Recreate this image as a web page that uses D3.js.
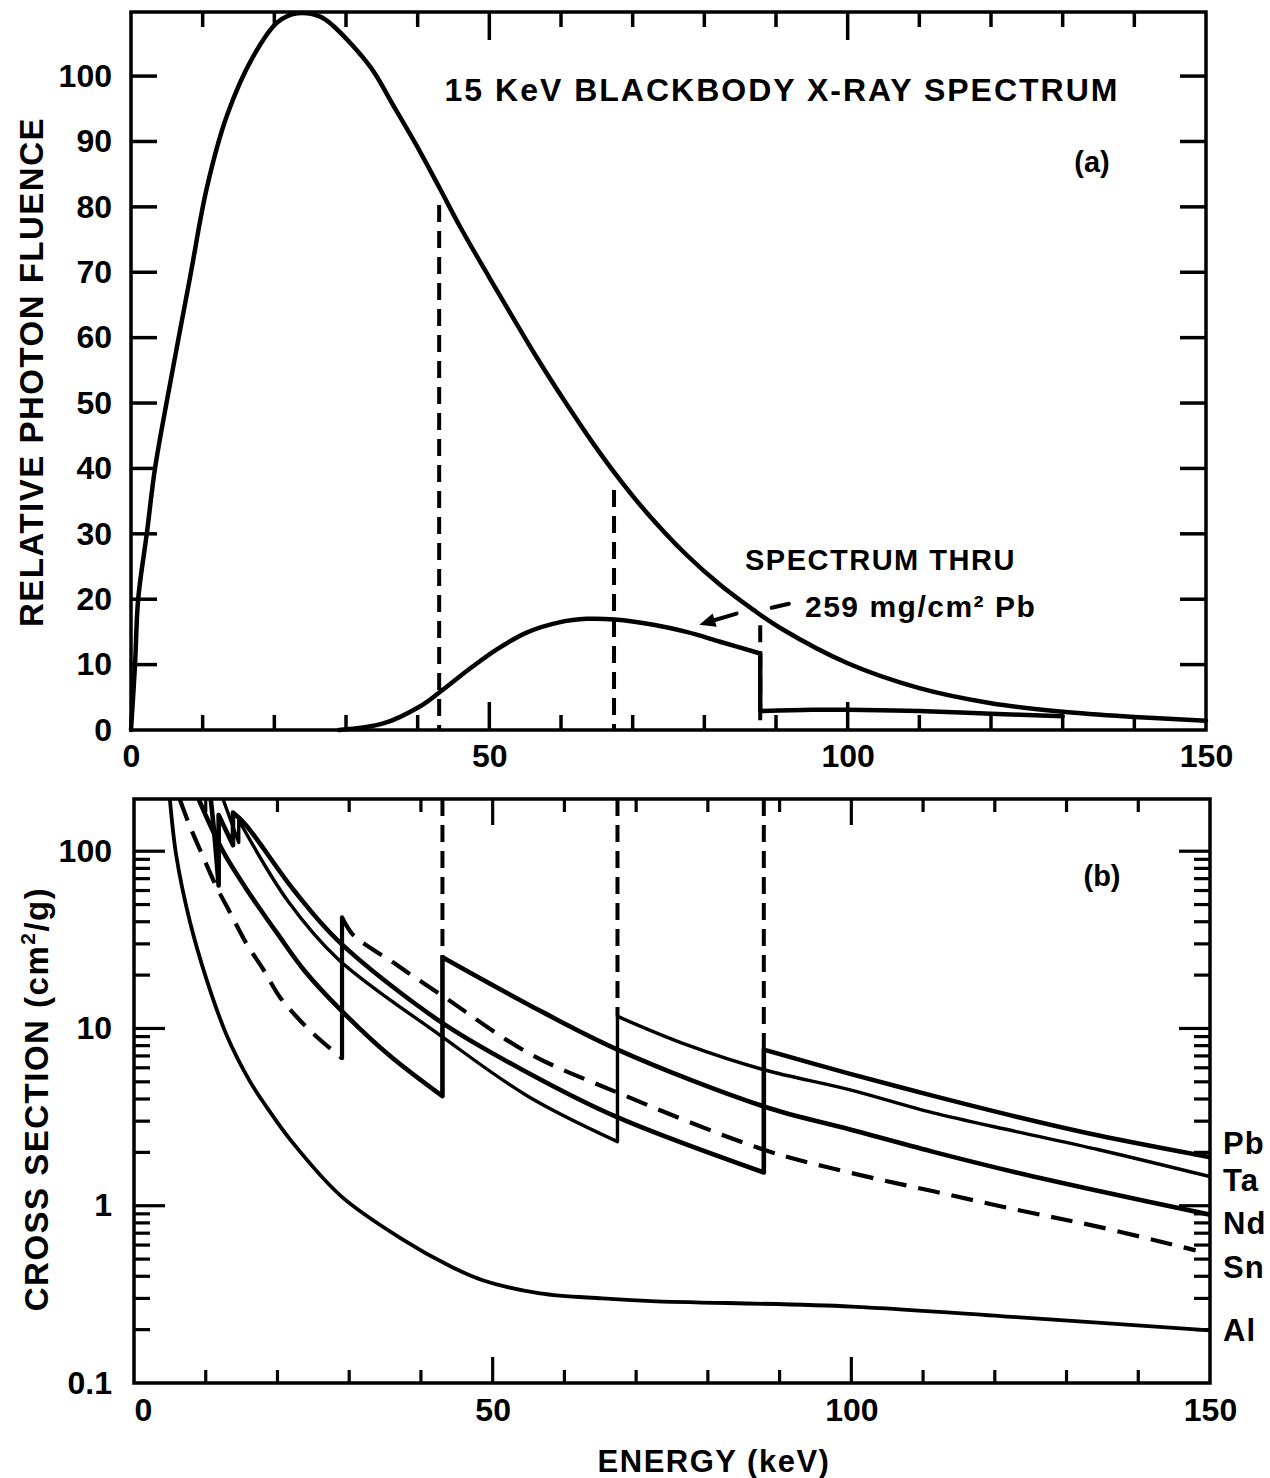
<!DOCTYPE html>
<html>
<head>
<meta charset="utf-8">
<script src="https://cdn.jsdelivr.net/npm/d3@7"></script>
<style>
  body { margin: 0; background: #fff; }
  text { font-family: "Liberation Sans", Arial, Helvetica, sans-serif; font-weight: bold; fill: #000; }
</style>
</head>
<body>
<script>
// ------- data -------
const E_MAX = 150;
const FLUENCE_MAX = 109.8;
const SIGMA_MIN = 0.1, SIGMA_MAX = 197;

// (a) 15 keV blackbody spectrum
const bbEnergy  = [0, 0.56, 1.0, 2.2, 3.35, 5.0, 8.2, 10.6, 13.4, 17.0, 20.4, 23.2, 26.4, 28.2, 33.4, 36.6, 40.3, 43.1, 45.9, 50.1, 52.9, 56.6, 60.8, 64.5, 68.2, 72.0, 77.5, 82.2, 86.8, 90.6, 100, 110, 120, 130, 140, 150];
const bbFluence = [0, 10, 20, 30, 40, 50.3, 69.0, 83.0, 94.0, 102.9, 108.2, 109.6, 109.1, 107.7, 101.4, 95.5, 88.5, 82.8, 77.0, 69.0, 63.8, 57.0, 49.8, 43.8, 38.3, 33.2, 26.8, 22.2, 18.4, 15.6, 10.2, 6.4, 4.1, 2.8, 2.0, 1.4];

// spectrum through 259 mg/cm2 Pb
const thruEnergy  = [29, 35.2, 40.3, 43.1, 47.3, 51.0, 55.2, 59.9, 63.6, 67.5, 72.9, 77.5, 82.2, 87.8, 87.8, 95, 100, 110, 120, 130];
const thruFluence = [0, 1.0, 3.6, 5.8, 9.4, 12.3, 14.9, 16.5, 17.0, 16.9, 16.1, 15.0, 13.5, 11.7, 2.9, 3.1, 3.1, 2.9, 2.5, 2.1];

// K edges marked by dashed lines
const edgeElement = ["Nd", "Ta", "Pb"];
const edgeEnergy  = [43.0, 67.4, 87.8];
const edgeMarkTop = [80.3, 36.7, 16.0];   // top of the dashed mark in panel (a)

// (b) cross sections, cm2/g
const pbEnergy = [10.7, 11.2, 11.8, 11.8, 13.8, 13.8, 15.5, 22.4, 28.5, 42.6, 54.9, 67.2, 87.8, 87.8, 99.7, 111.3, 123, 134.5, 150];
const pbSigma  = [197, 125, 64, 160, 108, 165, 142, 59.4, 31.1, 11.0, 5.63, 3.18, 1.54, 7.6, 5.56, 4.18, 3.18, 2.49, 1.88];

const taEnergy = [12.4, 14.6, 14.6, 21.5, 28.5, 42.6, 54.9, 67.4, 67.4, 77, 87.8, 99.7, 111.3, 123, 134.5, 150];
const taSigma  = [197, 112, 150, 52, 24.5, 9.2, 4.15, 2.3, 11.7, 8.1, 5.85, 4.52, 3.35, 2.62, 2.07, 1.46];

const ndEnergy = [9.0, 12.4, 15.5, 20.1, 23.8, 28.5, 35.5, 43.0, 43.0, 54.9, 67.4, 87.8, 99.7, 111.3, 123, 134.5, 150];
const ndSigma  = [197, 100, 62.7, 33.8, 21.1, 13.1, 7.1, 4.15, 25.2, 13.7, 7.6, 3.63, 2.70, 2.02, 1.54, 1.21, 0.89];

const snEnergy = [6.4, 7.8, 9.6, 11.5, 13.4, 15.7, 18.0, 20.3, 22.7, 25.5, 29.0, 29.0, 30.6, 33.3, 36.1, 38.9, 43.0, 54.9, 67.4, 87.8, 99.7, 111.3, 123, 134.5, 148];
const snSigma  = [195, 138, 93.6, 63, 45, 30, 21.6, 15.1, 11.6, 8.95, 6.8, 42.3, 33.5, 27.9, 23.6, 19.7, 15.3, 7.3, 4.35, 2.07, 1.54, 1.21, 0.95, 0.76, 0.56];

const alEnergy = [5.0, 5.9, 7.8, 10.1, 12.9, 16.2, 18.5, 22.0, 28.9, 37.6, 43.9, 48.6, 56.6, 65.3, 72.1, 100, 123, 150];
const alSigma  = [197, 94, 40, 19, 9.2, 5.0, 3.6, 2.3, 1.13, 0.64, 0.46, 0.38, 0.32, 0.30, 0.29, 0.27, 0.235, 0.198];

const elements = ["Pb", "Ta", "Nd", "Sn", "Al"];
const elementEnergy = [pbEnergy, taEnergy, ndEnergy, snEnergy, alEnergy];
const elementSigma  = [pbSigma, taSigma, ndSigma, snSigma, alSigma];

const energyLabels = [0, 50, 100, 150];
const fluenceLabels = d3.range(0, 101, 10);
const sigmaLabels = [0.1, 1, 10, 100];

// ------- helpers -------
function splitAtJumps(E, V) {
  const segs = [[]];
  E.forEach((e, i) => {
    if (i > 0 && e === E[i - 1]) segs.push([]);
    segs[segs.length - 1].push([e, V[i]]);
  });
  return segs;
}
function jumps(E, V) {
  const out = [];
  E.forEach((e, i) => { if (i > 0 && e === E[i - 1]) out.push([[e, V[i - 1]], [e, V[i]]]); });
  return out;
}
function joinedPath(line, segs) {
  return segs.map((s, i) => { const d = line(s); return i ? d.replace(/^M/, "L") : d; }).join("");
}

const svg = d3.select("body").append("svg").attr("width", 1270).attr("height", 1478);

// =================== panel (a) ===================
const xTop = d3.scaleLinear().domain([0, E_MAX]).range([131, 1206]);
const yTop = d3.scaleLinear().domain([0, FLUENCE_MAX]).range([730, 12]);
const gA = svg.append("g");

gA.append("rect")
  .attr("x", xTop(0)).attr("y", yTop(FLUENCE_MAX))
  .attr("width", xTop(E_MAX) - xTop(0)).attr("height", yTop(0) - yTop(FLUENCE_MAX))
  .attr("fill", "none").attr("stroke", "#000").attr("stroke-width", 3.5);

const xMinor = d3.range(10, E_MAX, 10);
const tickLenX = d => (d % 50 === 0 ? 28 : 15);
gA.selectAll(".tb").data(xMinor).join("line")
  .attr("x1", d => xTop(d)).attr("x2", d => xTop(d))
  .attr("y1", yTop(0)).attr("y2", d => yTop(0) - tickLenX(d));
gA.selectAll(".tt").data(xMinor).join("line")
  .attr("x1", d => xTop(d)).attr("x2", d => xTop(d))
  .attr("y1", yTop(FLUENCE_MAX)).attr("y2", d => yTop(FLUENCE_MAX) + tickLenX(d));
const yMinorA = d3.range(10, 101, 10);
gA.selectAll(".tl").data(yMinorA).join("line")
  .attr("x1", xTop(0)).attr("x2", xTop(0) + 26)
  .attr("y1", d => yTop(d)).attr("y2", d => yTop(d));
gA.selectAll(".tr").data(yMinorA).join("line")
  .attr("x1", xTop(E_MAX)).attr("x2", xTop(E_MAX) - 26)
  .attr("y1", d => yTop(d)).attr("y2", d => yTop(d));
gA.selectAll("line").attr("stroke", "#000").attr("stroke-width", 3.5);

gA.append("g").attr("transform", `translate(0,${yTop(0)})`)
  .call(d3.axisBottom(xTop).tickValues(energyLabels).tickSize(0).tickPadding(14))
  .call(g => g.select(".domain").remove())
  .attr("font-size", 32);
gA.append("g").attr("transform", `translate(${xTop(0)},0)`)
  .call(d3.axisLeft(yTop).tickValues(fluenceLabels).tickSize(0).tickPadding(19))
  .call(g => g.select(".domain").remove())
  .attr("font-size", 32);

const lineA = d3.line().x(d => xTop(d[0])).y(d => yTop(d[1])).curve(d3.curveCatmullRom.alpha(0.5));

gA.append("path")
  .attr("d", lineA(bbEnergy.map((e, i) => [e, bbFluence[i]])))
  .attr("fill", "none").attr("stroke", "#000").attr("stroke-width", 4.5)
  .attr("stroke-linejoin", "round").attr("stroke-linecap", "round");

gA.append("path")
  .attr("d", joinedPath(lineA, splitAtJumps(thruEnergy, thruFluence)))
  .attr("fill", "none").attr("stroke", "#000").attr("stroke-width", 4.5)
  .attr("stroke-linejoin", "round").attr("stroke-linecap", "round");

gA.selectAll(".edgeA").data(edgeEnergy).join("line")
  .attr("x1", d => xTop(d)).attr("x2", d => xTop(d))
  .attr("y1", (d, i) => yTop(edgeMarkTop[i])).attr("y2", yTop(0))
  .attr("stroke", "#000").attr("stroke-width", 4).attr("stroke-dasharray", "17,9");

// annotation arrow
const arrowTail = [xTop(84.5), yTop(17.8)], arrowHead = [xTop(79.3), yTop(16.1)];
gA.append("line")
  .attr("x1", arrowTail[0]).attr("y1", arrowTail[1]).attr("x2", arrowHead[0] + 8).attr("y2", arrowHead[1] - 2.5)
  .attr("stroke", "#000").attr("stroke-width", 4).attr("stroke-linecap", "round");
{
  const ang = Math.atan2(arrowHead[1] - arrowTail[1], arrowHead[0] - arrowTail[0]);
  const L = 16, W = 7;
  const bx = arrowHead[0] - L * Math.cos(ang), by = arrowHead[1] - L * Math.sin(ang);
  gA.append("polygon").attr("points", [
    arrowHead,
    [bx + W * Math.sin(ang), by - W * Math.cos(ang)],
    [bx - W * Math.sin(ang), by + W * Math.cos(ang)]
  ].map(p => p.join(",")).join(" ")).attr("fill", "#000");
}
gA.append("line")
  .attr("x1", xTop(89.4)).attr("y1", yTop(18.7)).attr("x2", xTop(91.8)).attr("y2", yTop(19.3))
  .attr("stroke", "#000").attr("stroke-width", 4).attr("stroke-linecap", "round");

gA.append("text").attr("x", 782).attr("y", 101).attr("text-anchor", "middle")
  .attr("font-size", 32).attr("letter-spacing", 2).text("15 KeV BLACKBODY X-RAY SPECTRUM");
gA.append("text").attr("x", 1092).attr("y", 172).attr("text-anchor", "middle")
  .attr("font-size", 29).text("(a)");
gA.append("text").attr("x", 745).attr("y", 570)
  .attr("font-size", 29).attr("letter-spacing", 1.5).text("SPECTRUM THRU");
gA.append("text").attr("x", 805).attr("y", 617)
  .attr("font-size", 30).attr("letter-spacing", 1.5).text("259 mg/cm² Pb");

svg.append("text").attr("transform", "translate(43,372) rotate(-90)").attr("text-anchor", "middle")
  .attr("font-size", 33).attr("letter-spacing", 1.5).text("RELATIVE PHOTON FLUENCE");

// =================== panel (b) ===================
const xBot = d3.scaleLinear().domain([0, E_MAX]).range([134, 1210]);
const yBot = d3.scaleLog().domain([SIGMA_MIN, SIGMA_MAX]).range([1383, 799]);
const gB = svg.append("g");

gB.append("rect")
  .attr("x", xBot(0)).attr("y", yBot(SIGMA_MAX))
  .attr("width", xBot(E_MAX) - xBot(0)).attr("height", yBot(SIGMA_MIN) - yBot(SIGMA_MAX))
  .attr("fill", "none").attr("stroke", "#000").attr("stroke-width", 3.5);

const tickLenXB = d => (d % 50 === 0 ? 26 : 13);
gB.selectAll(".tb").data(xMinor).join("line")
  .attr("x1", d => xBot(d)).attr("x2", d => xBot(d))
  .attr("y1", yBot(SIGMA_MIN)).attr("y2", d => yBot(SIGMA_MIN) - tickLenXB(d));
gB.selectAll(".tt").data(xMinor).join("line")
  .attr("x1", d => xBot(d)).attr("x2", d => xBot(d))
  .attr("y1", yBot(SIGMA_MAX)).attr("y2", d => yBot(SIGMA_MAX) + tickLenXB(d));
const yTicksB = yBot.ticks().filter(d => d > SIGMA_MIN * 1.001);
const isMajor = d => Math.abs(Math.log10(d) - Math.round(Math.log10(d))) < 1e-6;
gB.selectAll(".tl").data(yTicksB).join("line")
  .attr("x1", xBot(0)).attr("x2", d => xBot(0) + (isMajor(d) ? 31 : 16))
  .attr("y1", d => yBot(d)).attr("y2", d => yBot(d));
gB.selectAll(".tr").data(yTicksB).join("line")
  .attr("x1", xBot(E_MAX)).attr("x2", d => xBot(E_MAX) - (isMajor(d) ? 31 : 16))
  .attr("y1", d => yBot(d)).attr("y2", d => yBot(d));
gB.selectAll("line").attr("stroke", "#000").attr("stroke-width", 3.2);

gB.append("g").attr("transform", `translate(0,${yBot(SIGMA_MIN)})`)
  .call(d3.axisBottom(xBot).tickValues(energyLabels).tickSize(0).tickPadding(15))
  .call(g => g.select(".domain").remove())
  .call(g => g.selectAll(".tick text").filter(d => d === 0).attr("dx", 9))
  .attr("font-size", 32);
gB.append("g").attr("transform", `translate(${xBot(0)},0)`)
  .call(d3.axisLeft(yBot).tickValues(sigmaLabels).tickFormat(d3.format("~g")).tickSize(0).tickPadding(22))
  .call(g => g.select(".domain").remove())
  .attr("font-size", 32);

svg.append("clipPath").attr("id", "clipB").append("rect")
  .attr("x", xBot(0)).attr("y", yBot(SIGMA_MAX))
  .attr("width", xBot(E_MAX) - xBot(0)).attr("height", yBot(SIGMA_MIN) - yBot(SIGMA_MAX));
const curves = gB.append("g").attr("clip-path", "url(#clipB)");

const lineB = d3.line().x(d => xBot(d[0])).y(d => yBot(d[1])).curve(d3.curveCatmullRom.alpha(0.5));
const widths = { Pb: 4.6, Ta: 3.4, Nd: 4.6, Sn: 4.2, Al: 3.8 };

elements.forEach((el, k) => {
  const E = elementEnergy[k], S = elementSigma[k];
  const segs = splitAtJumps(E, S);
  if (el === "Sn") {
    curves.append("path").attr("d", segs.map(s => lineB(s)).join(""))
      .attr("fill", "none").attr("stroke", "#000").attr("stroke-width", widths[el])
      .attr("stroke-dasharray", "22,12");
    jumps(E, S).forEach(j => curves.append("path").attr("d", d3.line().x(d => xBot(d[0])).y(d => yBot(d[1]))(j))
      .attr("stroke", "#000").attr("stroke-width", widths[el]).attr("stroke-linecap", "round"));
  } else {
    curves.append("path").attr("d", joinedPath(lineB, segs))
      .attr("fill", "none").attr("stroke", "#000").attr("stroke-width", widths[el])
      .attr("stroke-linejoin", "round").attr("stroke-linecap", "round");
  }
});

// dashed edge marks from the top of panel (b) down to each jump
edgeElement.forEach((el, i) => {
  const k = elements.indexOf(el);
  const E = elementEnergy[k], S = elementSigma[k];
  const top = d3.max(S.filter((s, j) => E[j] === edgeEnergy[i]));
  curves.append("line")
    .attr("x1", xBot(edgeEnergy[i])).attr("x2", xBot(edgeEnergy[i]))
    .attr("y1", yBot(SIGMA_MAX)).attr("y2", yBot(top))
    .attr("stroke", "#000").attr("stroke-width", 4).attr("stroke-dasharray", "17,9");
});

// element labels at the right end
const labelY = [1154, 1191, 1234, 1278, 1341];
gB.selectAll(".el").data(elements).join("text")
  .attr("x", 1223).attr("y", (d, i) => labelY[i])
  .attr("font-size", 31).attr("letter-spacing", 1).text(d => d);

gB.append("text").attr("x", 1102).attr("y", 886).attr("text-anchor", "middle")
  .attr("font-size", 29).text("(b)");

const yTitleB = svg.append("text").attr("transform", "translate(48,1099) rotate(-90)").attr("text-anchor", "middle")
  .attr("font-size", 33).attr("letter-spacing", 1.5);
yTitleB.append("tspan").text("CROSS SECTION (cm");
yTitleB.append("tspan").attr("font-size", 21).attr("dy", -13).text("2");
yTitleB.append("tspan").attr("dy", 13).text("/g)");

svg.append("text").attr("x", 714).attr("y", 1472).attr("text-anchor", "middle")
  .attr("font-size", 31).attr("letter-spacing", 1.5).text("ENERGY (keV)");
</script>
</body>
</html>
